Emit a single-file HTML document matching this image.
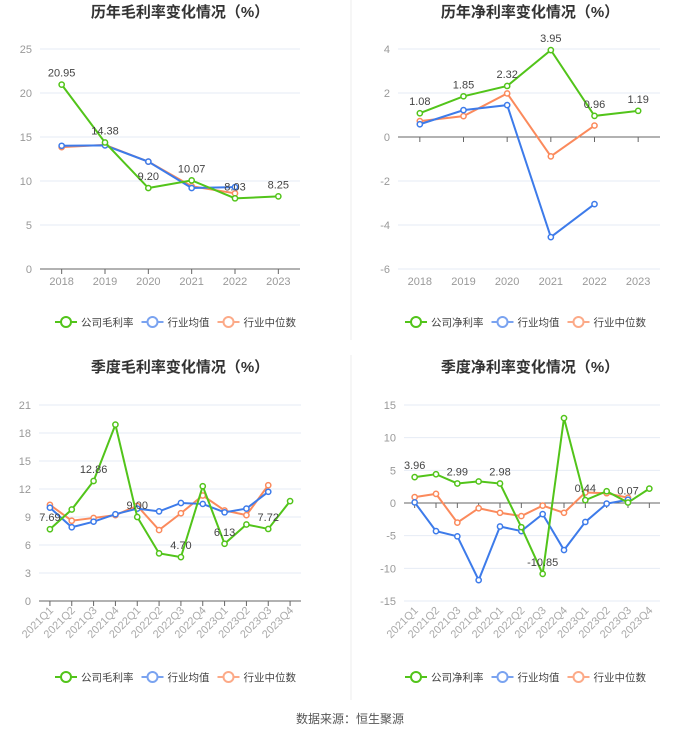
<!DOCTYPE html>
<html><head><meta charset="utf-8"><style>
body{margin:0;background:#fff;width:700px;height:733px;overflow:hidden;font-family:"Liberation Sans","Noto Sans CJK SC",sans-serif}
svg text{font-family:"Liberation Sans","Noto Sans CJK SC",sans-serif}
</style></head><body>
<svg id="s" width="700" height="733">
<line x1="351" y1="0" x2="351" y2="340" stroke="#eee"/>
<line x1="351" y1="355" x2="351" y2="700" stroke="#eee"/>
<text x="350" y="723" font-size="12" fill="#555" text-anchor="middle">数据来源：恒生聚源</text>
</svg>
<script>
const years=["2018","2019","2020","2021","2022","2023"];
const quarters=["2021Q1","2021Q2","2021Q3","2021Q4","2022Q1","2022Q2","2022Q3","2022Q4","2023Q1","2023Q2","2023Q3","2023Q4"];
const grossCompany=[20.95,14.38,9.20,10.07,8.03,8.25];
const grossAvg=[14.0,14.05,12.2,9.2,9.3];
const grossMedian=[13.85,14.1,12.2,9.4,8.6];
const grossLabels=["20.95","14.38","9.20","10.07","8.03","8.25"];
const netCompany=[1.08,1.85,2.32,3.95,0.96,1.19];
const netAvg=[0.58,1.22,1.45,-4.55,-3.05];
const netMedian=[0.72,0.95,1.98,-0.88,0.52];
const netLabels=["1.08","1.85","2.32","3.95","0.96","1.19"];
const qGrossCompany=[7.69,9.8,12.86,18.9,9.0,5.1,4.70,12.3,6.13,8.2,7.72,10.7];
const qGrossAvg=[10.0,7.9,8.5,9.3,9.9,9.6,10.5,10.4,9.5,9.9,11.7];
const qGrossMedian=[10.3,8.6,8.9,9.2,10.2,7.6,9.4,11.3,9.7,9.2,12.4];
const qGrossLabels=["7.69","","12.86","","9.00","","4.70","","6.13","","7.72",""];
const qNetCompany=[3.96,4.4,2.99,3.3,2.98,-3.7,-10.85,13.0,0.44,1.8,0.07,2.2];
const qNetAvg=[0.1,-4.3,-5.1,-11.8,-3.6,-4.3,-1.7,-7.2,-2.9,-0.1,0.5];
const qNetMedian=[0.9,1.4,-3.0,-0.8,-1.5,-2.0,-0.4,-1.5,1.6,1.5,0.8];
const qNetLabels=["3.96","","2.99","","2.98","","-10.85","","0.44","","0.07",""];
const ticks1=[0,5,10,15,20,25];
const ticks2=[-6,-4,-2,0,2,4];
const ticks3=[0,3,6,9,12,15,18,21];
const ticks4=[-15,-10,-5,0,5,10,15];

const S=document.getElementById('s');
const NS="http://www.w3.org/2000/svg";
function mk(tag,at,parent){const e=document.createElementNS(NS,tag);for(const k in at)e.setAttribute(k,at[k]);(parent||S).appendChild(e);return e;}
const G="#52c41a",B="#3d7bea",O="#fb8a5c";
function chart(o){
  const g=mk('g',{});
  
  
  const t=mk('text',{x:o.cx,y:o.ty,'font-size':15,'font-weight':'bold',fill:'#333','text-anchor':'middle'},g);
  t.textContent=o.title;
  
  
  const mn=o.ticks[0],mx=o.ticks[o.ticks.length-1];
  const Y=v=>o.y1-(v-mn)/(mx-mn)*(o.y1-o.y0);
  const n=o.cats.length,step=(o.x1-o.x0)/n;
  const X=i=>o.x0+step*(i+0.5);
  o.ticks.forEach(v=>{
    const l=mk('line',{x1:o.x0,x2:o.x1,y1:Y(v),y2:Y(v),stroke:v===0&&mn<0?'#666':'#e6ebf5'},g);
    
    
    const tx=mk('text',{x:o.x0-8,y:Y(v)+4,'font-size':11,fill:'#999','text-anchor':'end'},g);
    tx.textContent=v;
    
    
  });
  const ay=mn<0?Y(0):o.y1;
  const ax=mk('line',{x1:o.x0,x2:o.x1,y1:ay,y2:ay,stroke:'#666'},g);
  
  
  o.cats.forEach((c,i)=>{
    mk('line',{x1:X(i),x2:X(i),y1:ay,y2:ay+5,stroke:'#666'},g);
    let tx;
    if(o.rot){tx=mk('text',{x:X(i)+4,y:o.y1+10,'font-size':11,fill:'#aaa','text-anchor':'end',transform:`rotate(-45 ${X(i)+4} ${o.y1+10})`},g);}
    else tx=mk('text',{x:X(i),y:o.y1+16,'font-size':11,fill:'#999','text-anchor':'middle'},g);
    tx.textContent=c;
    
    
  });
  const series=[[o.med,O,'median-line'],[o.avg,B,'average-line'],[o.comp,G,'company-line']];
  series.forEach(([d,col,nm])=>{
    const p=mk('polyline',{points:d.map((v,i)=>X(i)+','+Y(v)).join(' '),fill:'none',stroke:col,'stroke-width':2},g);
    
    
    d.forEach((v,i)=>{
      const c=mk('circle',{cx:X(i),cy:Y(v),r:2.6,fill:'#fff',stroke:col,'stroke-width':1.5},g);
      
      
    });
  });
  o.labels.forEach((s,i)=>{
    if(!s)return;
    const tx=mk('text',{x:X(i),y:Y(o.comp[i])-(o.comp[i]<0?-0:8)+(o.comp[i]<-5?-8:0),'font-size':11,fill:'#444','text-anchor':'middle'},g);
    tx.textContent=s;
    
    
  });
  const items=[[o.leg,G],['行业均值','#7aa3f0'],['行业中位数','#fcaa88']];
  let lx=o.cx-125;
  items.forEach(([s,col])=>{
    const lg=mk('g',{},g);
    
    
    mk('line',{x1:lx,x2:lx+22,y1:o.ly,y2:o.ly,stroke:col,'stroke-width':2},lg);
    mk('circle',{cx:lx+11,cy:o.ly,r:5,fill:'#fff',stroke:col,'stroke-width':2},lg);
    const tx=mk('text',{x:lx+26,y:o.ly+4,'font-size':10.5,fill:'#444'},lg);
    tx.textContent=s;
    lx+=26+s.length*10.5+8;
  });
}
chart({name:'annual-gross-margin-chart',title:'历年毛利率变化情况（%）',cx:180,ty:17,x0:40,x1:300,y0:49,y1:269,ticks:ticks1,cats:years,comp:grossCompany,avg:grossAvg,med:grossMedian,labels:grossLabels,leg:'公司毛利率',ly:322});
chart({name:'annual-net-margin-chart',title:'历年净利率变化情况（%）',cx:530,ty:17,x0:398,x1:660,y0:49,y1:269,ticks:ticks2,cats:years,comp:netCompany,avg:netAvg,med:netMedian,labels:netLabels,leg:'公司净利率',ly:322});
chart({name:'quarterly-gross-margin-chart',title:'季度毛利率变化情况（%）',cx:180,ty:372,x0:39,x1:301,y0:405,y1:601,ticks:ticks3,cats:quarters,comp:qGrossCompany,avg:qGrossAvg,med:qGrossMedian,labels:qGrossLabels,leg:'公司毛利率',ly:677,rot:true});
chart({name:'quarterly-net-margin-chart',title:'季度净利率变化情况（%）',cx:530,ty:372,x0:404,x1:660,y0:405,y1:601,ticks:ticks4,cats:quarters,comp:qNetCompany,avg:qNetAvg,med:qNetMedian,labels:qNetLabels,leg:'公司净利率',ly:677,rot:true});
</script>
</body></html>
